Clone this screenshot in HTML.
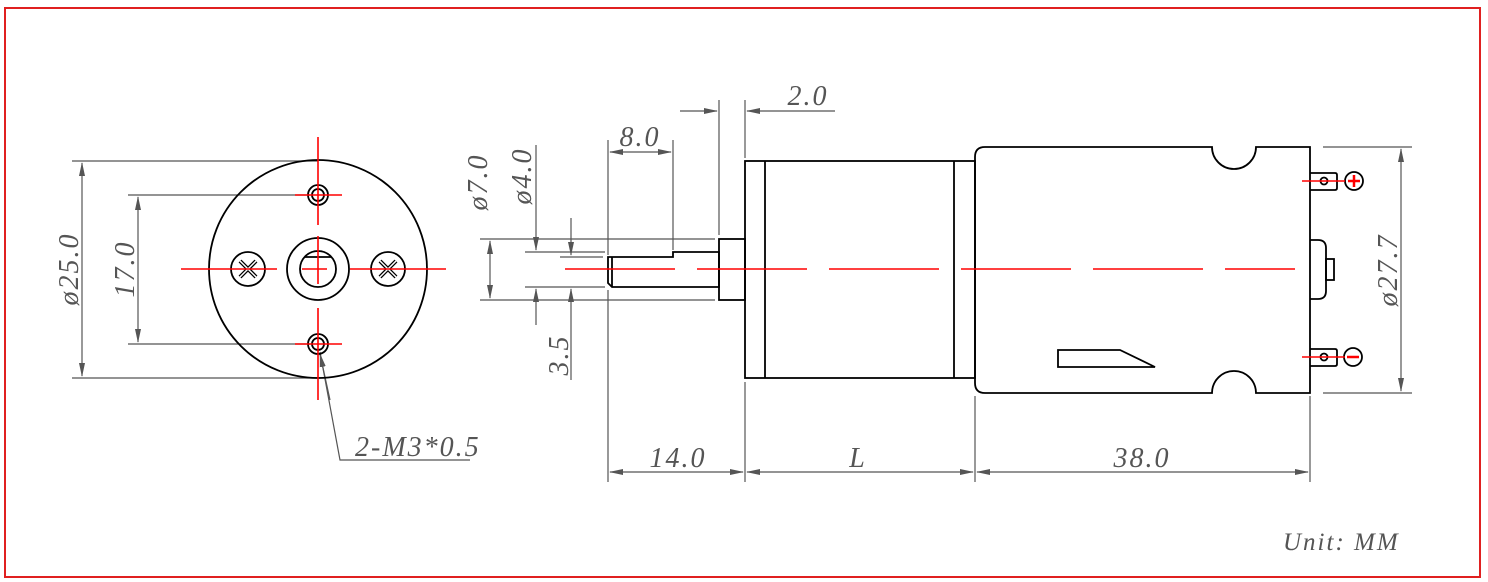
<!DOCTYPE html>
<html><head><meta charset="utf-8"><style>
html,body{margin:0;padding:0;background:#fff;}
svg{display:block}
text{font-family:"Liberation Serif",serif;font-style:italic;fill:#555;font-size:28px;letter-spacing:2px}
</style></head><body>
<svg width="1488" height="582" viewBox="0 0 1488 582" xmlns="http://www.w3.org/2000/svg">
<defs>
<marker id="a" markerWidth="14" markerHeight="8" refX="13" refY="4" orient="auto" markerUnits="userSpaceOnUse"><path d="M0,1 L14,4 L0,7 Z" fill="#555"/></marker>
</defs>
<rect x="5" y="8" width="1475" height="569" fill="none" stroke="#e02020" stroke-width="2"/>

<g stroke="#555" stroke-width="1.2" fill="none">
<line x1="72" y1="161" x2="318" y2="161"/><line x1="72" y1="378" x2="318" y2="378"/>
<line x1="82" y1="269" x2="82" y2="163" marker-end="url(#a)"/><line x1="82" y1="269" x2="82" y2="376" marker-end="url(#a)"/>
<line x1="128" y1="195" x2="310" y2="195"/><line x1="128" y1="344" x2="310" y2="344"/>
<line x1="138" y1="269" x2="138" y2="197" marker-end="url(#a)"/><line x1="138" y1="269" x2="138" y2="342" marker-end="url(#a)"/>
<polyline points="320,352 340,460 470,460"/>
<line x1="330" y1="400" x2="320" y2="354" marker-end="url(#a)"/>
</g>
<text transform="translate(78,269) rotate(-90)" text-anchor="middle">ø25.0</text>
<text transform="translate(134,269) rotate(-90)" text-anchor="middle">17.0</text>
<text x="355" y="456">2-M3*0.5</text>
<g stroke="#000" stroke-width="1.8" fill="none">
<circle cx="318" cy="269" r="109"/>
<circle cx="318" cy="269" r="31"/><circle cx="318" cy="269" r="18"/>
<line x1="305" y1="257" x2="331" y2="257"/>
<circle cx="248" cy="269" r="17"/><circle cx="388" cy="269" r="17"/>
<circle cx="318" cy="195" r="10"/><circle cx="318" cy="195" r="6"/>
<circle cx="318" cy="344" r="10"/><circle cx="318" cy="344" r="6"/>
<path d="M240,261 L256,277 M256,261 L240,277 M380,261 L396,277 M396,261 L380,277" stroke-width="4"/>
<path d="M240,261 L256,277 M256,261 L240,277 M380,261 L396,277 M396,261 L380,277" stroke="#fff" stroke-width="1.5"/>
</g>
<g stroke="#f00" stroke-width="1.6">
<line x1="318" y1="137" x2="318" y2="225"/><line x1="318" y1="236" x2="318" y2="284"/><line x1="318" y1="308" x2="318" y2="400"/>
<line x1="181" y1="269" x2="277" y2="269"/><line x1="302" y1="269" x2="327" y2="269"/><line x1="350" y1="269" x2="446" y2="269"/>
<line x1="295" y1="195" x2="342" y2="195"/><line x1="295" y1="344" x2="342" y2="344"/>
</g>

<g stroke="#555" stroke-width="1.2" fill="none">
<line x1="480" y1="239" x2="715" y2="239"/><line x1="480" y1="300" x2="715" y2="300"/>
<line x1="490" y1="269" x2="490" y2="241" marker-end="url(#a)"/><line x1="490" y1="269" x2="490" y2="298" marker-end="url(#a)"/>
<line x1="525" y1="252" x2="605" y2="252"/><line x1="525" y1="287" x2="605" y2="287"/>
<line x1="536" y1="145" x2="536" y2="250" marker-end="url(#a)"/><line x1="536" y1="325" x2="536" y2="289" marker-end="url(#a)"/>
<line x1="560" y1="257" x2="603" y2="257"/>
<line x1="571" y1="218" x2="571" y2="255" marker-end="url(#a)"/><line x1="571" y1="380" x2="571" y2="289" marker-end="url(#a)"/>
<line x1="608" y1="140" x2="608" y2="255"/><line x1="608" y1="290" x2="608" y2="482"/>
<line x1="673" y1="140" x2="673" y2="250"/>
<line x1="640" y1="152" x2="610" y2="152" marker-end="url(#a)"/><line x1="640" y1="152" x2="671" y2="152" marker-end="url(#a)"/>
<line x1="719" y1="100" x2="719" y2="235"/><line x1="745" y1="100" x2="745" y2="158"/>
<line x1="680" y1="111" x2="717" y2="111" marker-end="url(#a)"/><line x1="835" y1="111" x2="747" y2="111" marker-end="url(#a)"/>
<line x1="745" y1="382" x2="745" y2="482"/><line x1="975" y1="396" x2="975" y2="482"/><line x1="1310" y1="396" x2="1310" y2="482"/>
<line x1="676" y1="472" x2="610" y2="472" marker-end="url(#a)"/><line x1="676" y1="472" x2="743" y2="472" marker-end="url(#a)"/>
<line x1="860" y1="472" x2="747" y2="472" marker-end="url(#a)"/><line x1="860" y1="472" x2="973" y2="472" marker-end="url(#a)"/>
<line x1="1142" y1="472" x2="977" y2="472" marker-end="url(#a)"/><line x1="1142" y1="472" x2="1308" y2="472" marker-end="url(#a)"/>
<line x1="1323" y1="147" x2="1412" y2="147"/><line x1="1323" y1="393" x2="1412" y2="393"/>
<line x1="1401" y1="269" x2="1401" y2="149" marker-end="url(#a)"/><line x1="1401" y1="269" x2="1401" y2="391" marker-end="url(#a)"/>
</g>
<text transform="translate(487,182) rotate(-90)" text-anchor="middle">ø7.0</text>
<text transform="translate(531,176) rotate(-90)" text-anchor="middle">ø4.0</text>
<text transform="translate(568,355) rotate(-90)" text-anchor="middle">3.5</text>
<text x="640" y="146" text-anchor="middle">8.0</text>
<text x="808" y="105" text-anchor="middle">2.0</text>
<text x="678" y="467" text-anchor="middle">14.0</text>
<text x="858" y="467" text-anchor="middle">L</text>
<text x="1142" y="467" text-anchor="middle">38.0</text>
<text transform="translate(1397,270) rotate(-90)" text-anchor="middle">ø27.7</text>
<text x="1283" y="550" style="font-size:25px">Unit: MM</text>

<g stroke="#000" stroke-width="1.8" fill="none">
<path d="M608,257 L673,257 L673,252 L719,252 L719,287 L612,287 L608,283 Z"/>
<line x1="612" y1="257" x2="612" y2="287"/>
<rect x="719" y="239" width="26" height="61"/>
<rect x="745" y="161" width="230" height="217"/>
<line x1="765" y1="161" x2="765" y2="378"/><line x1="954" y1="161" x2="954" y2="378"/>
<path d="M985,147 L1212,147 A22,22 0 0 0 1256,147 L1310,147 L1310,393 L1256,393 A22,22 0 0 0 1212,393 L985,393 Q975,393 975,383 L975,157 Q975,147 985,147 Z"/>
<path d="M1310,240 L1318,240 Q1326,240 1326,248 L1326,291 Q1326,299 1318,299 L1310,299"/>
<rect x="1326" y="259" width="8" height="21"/>
<path d="M1310,173 L1335,173 Q1337,173 1337,175 L1337,188 Q1337,190 1335,190 L1310,190"/>
<path d="M1310,349 L1335,349 Q1337,349 1337,351 L1337,364 Q1337,366 1335,366 L1310,366"/>
<circle cx="1324" cy="181" r="3.5"/><circle cx="1324" cy="357" r="3.5"/>
<circle cx="1354" cy="181" r="9"/><circle cx="1353" cy="357" r="9"/>
<path d="M1058,350 L1120,350 L1155,367 L1058,367 Z"/>
</g>
<g stroke="#f00" stroke-width="1.6">
<line x1="565" y1="269" x2="1295" y2="269" stroke-dasharray="110,22"/>
<line x1="1302" y1="181" x2="1345" y2="181"/><line x1="1302" y1="357" x2="1345" y2="357"/>
<line x1="1348" y1="181" x2="1360" y2="181" stroke-width="2.5"/><line x1="1354" y1="175" x2="1354" y2="187" stroke-width="2.5"/>
<line x1="1347" y1="357" x2="1359" y2="357" stroke-width="2.5"/>
</g>
</svg>
</body></html>
